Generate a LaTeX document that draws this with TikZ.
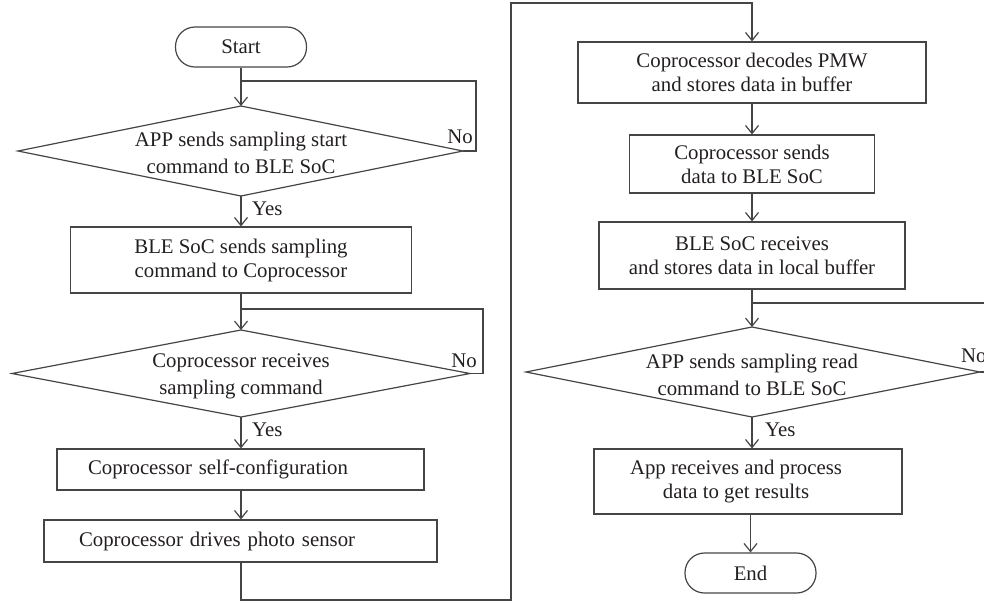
\documentclass[tikz,border=0pt]{standalone}
\usepackage{fontspec}
\setmainfont{Liberation Serif}
\usetikzlibrary{arrows.meta}
\definecolor{lncol}{HTML}{454545}
\definecolor{txcol}{HTML}{231F20}
\begin{document}
\begin{tikzpicture}[x=1pt,y=-1pt,
  ln/.style={draw=lncol, line width=1.2pt},
  arr/.style={ln, -{Straight Barb[length=8pt,width=13pt]}},
  txt/.style={text=txcol, font=\fontsize{20.8}{24}\selectfont},
  dtxt/.style={text=txcol, font=\fontsize{20.8}{27}\selectfont, align=center, inner sep=0pt},
  box/.style={txt, draw=lncol, line width=1.2pt, rectangle, inner sep=0pt, align=center},
  term/.style={box, rounded corners=19.5pt},
  lbl/.style={txt, inner sep=0pt}]
\clip (0,0) rectangle (984,606);

% ---------- left column ----------
\node[term, minimum width=131pt, minimum height=40pt] (start) at (241,47) {Start};

\coordinate (d1t) at (241,106);
\coordinate (d1b) at (241,196);
\coordinate (d1l) at (18,151);
\coordinate (d1r) at (463,151);
\coordinate (j1) at (241,81);
\draw[ln] (d1t) -- (d1r) -- (d1b) -- (d1l) -- cycle;
\node[dtxt] (d1) at (241,153) {APP sends sampling start\\command to BLE SoC};

\node[box, minimum width=341pt, minimum height=66pt] (ble) at (241,260) {BLE SoC sends sampling\\command to Coprocessor};

\coordinate (d2t) at (241,330);
\coordinate (d2b) at (241,417);
\coordinate (d2l) at (12,373.5);
\coordinate (d2r) at (470,373.5);
\coordinate (j2) at (241,309);
\draw[ln] (d2t) -- (d2r) -- (d2b) -- (d2l) -- cycle;
\node[dtxt] (d2) at (241,376) {Coprocessor receives\\sampling command};

\node[box, minimum height=41pt, inner xsep=31pt, text width=305pt, align=left] (cfg) at (240.5,469.5) {Coprocessor self-configuration};
\node[box, minimum height=42pt, inner xsep=35pt, text width=323pt, align=left] (drv) at (240.5,541) {Coprocessor drives photo sensor};

\node[lbl, anchor=base east] (no1) at (473,143) {No};
\node[lbl, anchor=base west] (yes1) at (252,215) {Yes};
\node[lbl, anchor=base east] (no2) at (477,367) {No};
\node[lbl, anchor=base west] (yes2) at (252,436) {Yes};

\draw[arr] (start.south) -- (d1t);
\draw[ln] (d1r) -- ++(13,0) |- (j1);
\draw[arr] (d1b) -- (ble.north);
\draw[arr] (ble.south) -- (d2t);
\draw[ln] (d2r) -- ++(13,0) |- (j2);
\draw[arr] (d2b) -- (d2b |- cfg.north);
\draw[arr] (d2b |- cfg.south) -- (d2b |- drv.north);

% ---------- right column ----------
\node[box, minimum width=348pt, minimum height=61pt] (pmw) at (752,72.5) {Coprocessor decodes PMW\\and stores data in buffer};
\node[box, minimum width=245pt, minimum height=58pt] (snd) at (752,164) {Coprocessor sends\\data to BLE SoC};
\node[box, minimum width=306pt, minimum height=67pt] (rcv) at (752,255.5) {BLE SoC receives\\and stores data in local buffer};

\coordinate (d3t) at (752,327);
\coordinate (d3b) at (752,417);
\coordinate (d3l) at (526,372);
\coordinate (d3r) at (980,372);
\coordinate (j3) at (752,303);
\draw[ln] (d3t) -- (d3r) -- (d3b) -- (d3l) -- cycle;
\node[dtxt] (d3) at (752,375) {APP sends sampling read\\command to BLE SoC};

\node[box, minimum width=308pt, minimum height=65pt] (app) at (748,481.5) {\begin{tabular}{@{}c@{}}App receives and process\\data to get results\end{tabular}\hspace{24pt}};
\node[term, minimum width=131pt, minimum height=40pt] (endn) at (750.5,573) {End};

\node[lbl, anchor=base west] (no3) at (961,362) {No};
\node[lbl, anchor=base west] (yes3) at (765,436) {Yes};

\coordinate (c1) at (511,600);
\coordinate (c2) at (511,3);
\draw[arr] (241,562) |- (c1) -- (c2) -| (pmw.north);
\draw[arr] (pmw.south) -- (pmw.south |- snd.north);
\draw[arr] (pmw.south |- snd.south) -- (rcv.north);
\draw[arr] (rcv.south) -- (d3t);
\draw[ln] (d3r) -- ++(14,0) |- (j3);
\draw[arr] (d3b) -- (d3b |- app.north);
\draw[arr] (endn.north |- app.south) -- (endn.north);
\end{tikzpicture}
\end{document}
